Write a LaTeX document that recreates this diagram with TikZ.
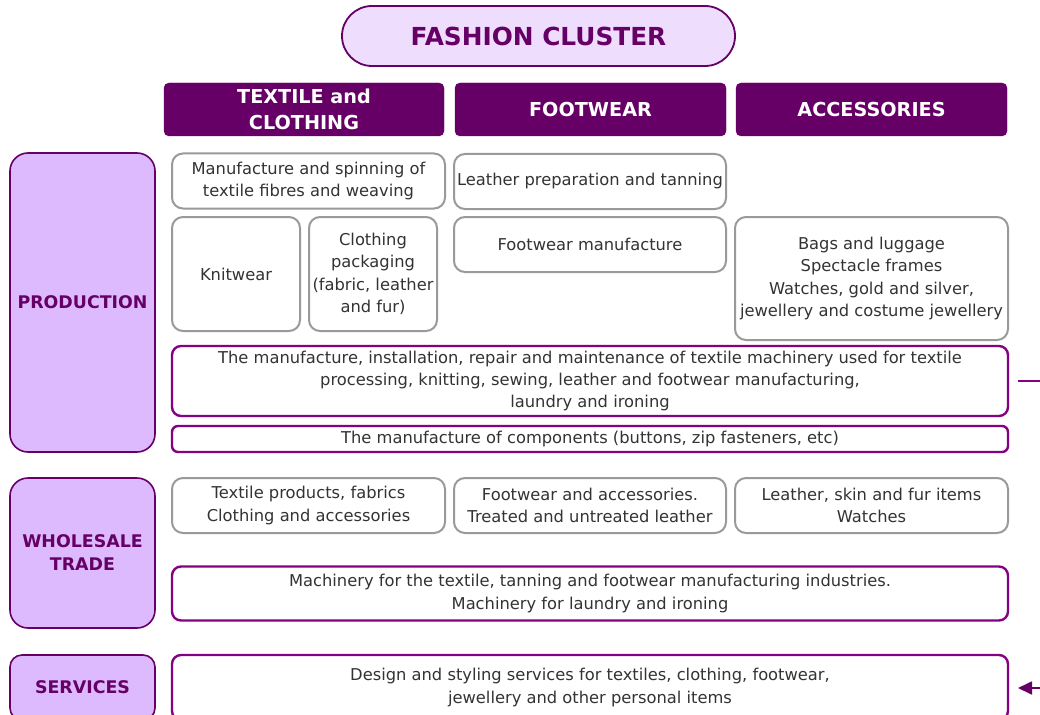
\documentclass[tikz,border=0pt]{standalone}
\usepackage{fontspec}
\setmainfont{DejaVu Sans}
\usetikzlibrary{arrows.meta}
\definecolor{dpurple}{HTML}{660066}
\definecolor{mpurple}{HTML}{850085}
\definecolor{lfill}{HTML}{DDBAFD}
\definecolor{tfill}{HTML}{EFDDFD}
\definecolor{gborder}{HTML}{9A9A9A}
\definecolor{txt}{HTML}{333333}
\tikzset{
  bodytext/.style={font=\fontsize{16.3}{22.3}\selectfont, text=txt, align=center, inner sep=0pt},
  graybox/.style={bodytext, draw=gborder, line width=2pt, fill=white, rounded corners=11pt},
  purplebox/.style={bodytext, draw=mpurple, line width=2.4pt, fill=white, rounded corners=9pt},
  headbox/.style={fill=dpurple, draw=dpurple, rounded corners=5pt, text=white, align=center,
    font=\fontsize{19.2}{26}\selectfont\bfseries, inner sep=0pt},
  sidebox/.style={fill=lfill, draw=dpurple, line width=1.6pt, rounded corners=18pt, text=dpurple,
    align=center, font=\fontsize{17.4}{23}\selectfont\bfseries, inner sep=0pt},
  titlebox/.style={fill=tfill, draw=dpurple, line width=1.8pt, rounded corners=30pt, text=dpurple,
    font=\fontsize{24.8}{28}\selectfont\bfseries, inner sep=0pt},
}
\begin{document}
\begin{tikzpicture}[x=1pt, y=-1pt]
\useasboundingbox (0,0) rectangle (1040,714);
% title
\node[titlebox, minimum width=393pt, minimum height=60pt] (title) at (538.5,36) {FASHION CLUSTER};
% headers
\node[headbox, minimum width=280pt, minimum height=53pt] (h1) at (304,109.5) {TEXTILE and\\CLOTHING};
\node[headbox, minimum width=271pt, minimum height=53pt] (h2) at (590.5,109.5) {FOOTWEAR};
\node[headbox, minimum width=271pt, minimum height=53pt] (h3) at (871.5,109.5) {ACCESSORIES};
% side boxes
\node[sidebox, minimum width=145pt, minimum height=299pt] (prod) at (82.5,302.5) {PRODUCTION};
\node[sidebox, minimum width=145pt, minimum height=150pt] (whole) at (82.5,553) {WHOLESALE\\TRADE};
\node[sidebox, minimum width=145pt, minimum height=65pt, rounded corners=12pt] (serv) at (82.5,687.5) {SERVICES};
% production
\node[graybox, minimum width=273pt, minimum height=55pt] (g1) at (308.5,181) {Manufacture and spinning of\\textile fibres and weaving};
\node[graybox, minimum width=272pt, minimum height=55pt] (g2) at (590,181.5) {Leather preparation and tanning};
\node[graybox, minimum width=128pt, minimum height=114pt] (knit) at (236,274) {Knitwear};
\node[graybox, minimum width=128pt, minimum height=114pt] (cloth) at (373,274) {Clothing\\packaging\\(fabric, leather\\and fur)};
\node[graybox, minimum width=272pt, minimum height=55pt] (fw) at (590,244.5) {Footwear manufacture};
\node[graybox, minimum width=273pt, minimum height=123pt] (bags) at (871.5,278.5) {Bags and luggage\\Spectacle frames\\Watches, gold and silver,\\jewellery and costume jewellery};
\node[purplebox, minimum width=836pt, minimum height=70pt] (mach) at (590,381) {The manufacture, installation, repair and maintenance of textile machinery used for textile\\processing, knitting, sewing, leather and footwear manufacturing,\\laundry and ironing};
\node[purplebox, minimum width=836pt, minimum height=26pt, rounded corners=6pt] (comp) at (590,439) {The manufacture of components (buttons, zip fasteners, etc)};
% wholesale
\node[graybox, minimum width=273pt, minimum height=55pt] (w1) at (308.5,505.5) {Textile products, fabrics\\Clothing and accessories};
\node[graybox, minimum width=272pt, minimum height=55pt] (w2) at (590,505.5) {Footwear and accessories.\\Treated and untreated leather};
\node[graybox, minimum width=273pt, minimum height=55pt] (w3) at (871.5,505.5) {Leather, skin and fur items\\Watches};
\node[purplebox, minimum width=836pt, minimum height=54pt] (wm) at (590,593.5) {Machinery for the textile, tanning and footwear manufacturing industries.\\Machinery for laundry and ironing};
% services
\node[purplebox, minimum width=836pt, minimum height=65pt] (sv) at (590,687.5) {Design and styling services for textiles, clothing, footwear,\\jewellery and other personal items};
% side connectors
\coordinate (l1) at (1018,381);
\coordinate (l2) at (1045,381);
\draw[mpurple, line width=1.8pt] (l1) -- (l2);
\coordinate (a1) at (1045,688);
\coordinate (a2) at (1018,688);
\draw[dpurple, line width=1.8pt, -{Triangle[length=14pt, width=13pt]}] (a1) -- (a2);
\end{tikzpicture}
\end{document}
